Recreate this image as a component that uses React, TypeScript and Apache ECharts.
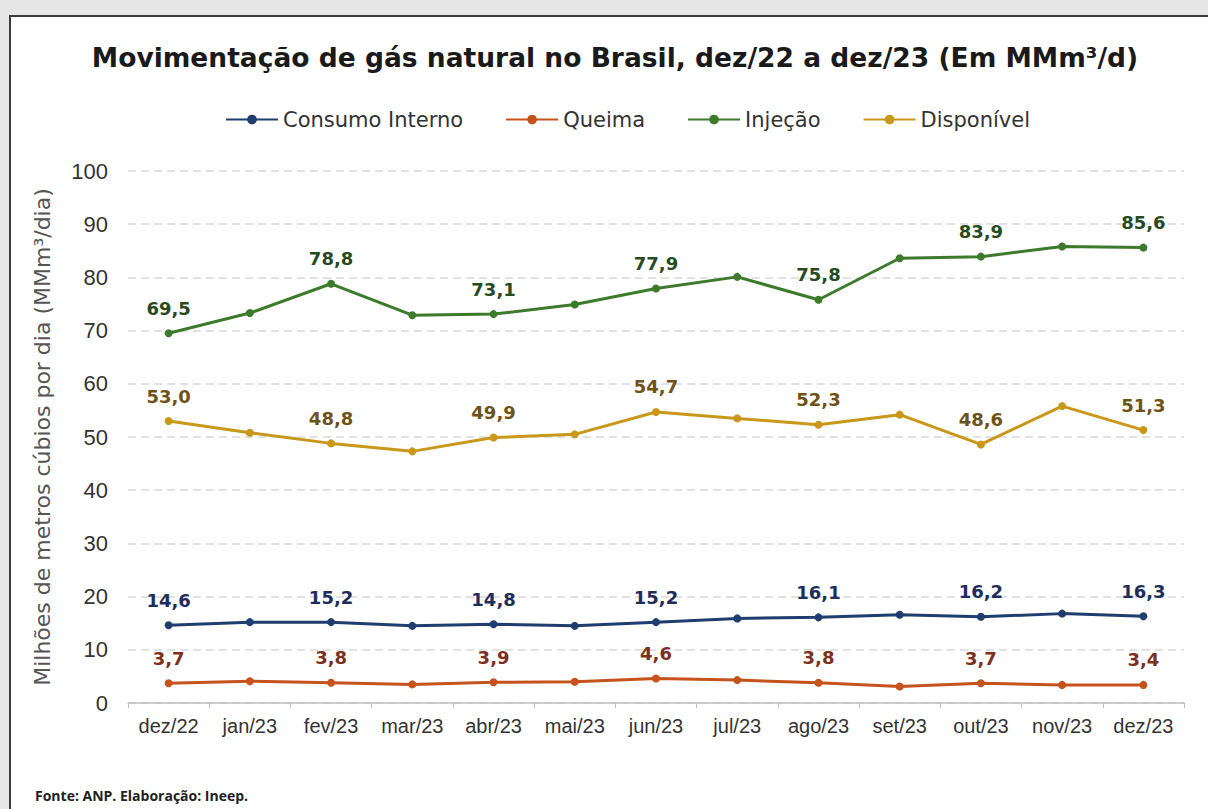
import React, { useEffect, useRef } from "react";
import * as echarts from "echarts";

const categories = ["dez/22", "jan/23", "fev/23", "mar/23", "abr/23", "mai/23", "jun/23", "jul/23", "ago/23", "set/23", "out/23", "nov/23", "dez/23"];
const consumoInterno = [14.6, 15.2, 15.2, 14.5, 14.8, 14.5, 15.2, 15.9, 16.1, 16.6, 16.2, 16.8, 16.3];
const queima = [3.7, 4.1, 3.8, 3.5, 3.9, 4.0, 4.6, 4.3, 3.8, 3.1, 3.7, 3.4, 3.4];
const injecao = [69.5, 73.3, 78.8, 72.9, 73.1, 74.9, 77.9, 80.1, 75.8, 83.6, 83.9, 85.8, 85.6];
const disponivel = [53.0, 50.8, 48.8, 47.3, 49.9, 50.5, 54.7, 53.5, 52.3, 54.2, 48.6, 55.8, 51.3];
const yTicks = [0, 10, 20, 30, 40, 50, 60, 70, 80, 90, 100];

const seriesDefs = [
  { name: "Consumo Interno", data: consumoInterno, color: "#1f3d6e", labelColor: "#1f2d5a" },
  { name: "Queima", data: queima, color: "#c5531b", labelColor: "#7d2f20" },
  { name: "Injeção", data: injecao, color: "#3d7a2b", labelColor: "#274a1f" },
  { name: "Disponível", data: disponivel, color: "#c9971a", labelColor: "#6e5218" },
];

export default function App() {
  const ref = useRef<HTMLDivElement>(null);
  useEffect(() => {
    if (!ref.current) return;
    const chart = echarts.init(ref.current, undefined, { renderer: "svg" });
    chart.setOption({
      animation: false,
      backgroundColor: "transparent",
      title: {
        text: "Movimentação de gás natural no Brasil, dez/22 a dez/23 (Em MMm³/d)",
        left: 610,
        textAlign: "center",
        top: 39,
        textStyle: { fontFamily: "DejaVu Sans", fontWeight: "bold", fontSize: 26.5, color: "#1a1a1a" },
      },
      legend: {
        top: 104,
        left: 220,
        itemWidth: 52,
        itemHeight: 12,
        itemGap: 42,
        textStyle: { fontFamily: "DejaVu Sans", fontSize: 21, color: "#333" },
        data: seriesDefs.map((s) => s.name),
      },
      grid: { left: 128, right: 24, top: 171, bottom: 106, containLabel: false },
      xAxis: {
        type: "category",
        data: categories,
        boundaryGap: true,
        axisLine: { show: true, lineStyle: { color: "#bfbfbf", width: 1.5 } },
        axisTick: { show: true, interval: 0, length: 5, lineStyle: { color: "#bfbfbf" } },
        axisLabel: { interval: 0, fontFamily: "Liberation Sans, Arial", fontSize: 20, color: "#333", margin: 13 },
      },
      yAxis: {
        type: "value",
        min: 0,
        max: 100,
        interval: 10,
        name: "Milhões de metros cúbios por dia (MMm³/dia)",
        nameLocation: "middle",
        nameGap: 75,
        nameTextStyle: { fontFamily: "DejaVu Sans", fontSize: 22, color: "#555" },
        axisLine: { show: false },
        axisTick: { show: false },
        axisLabel: {
          fontFamily: "Liberation Sans, Arial",
          fontSize: 22,
          color: "#333",
          margin: 20,
          formatter: (v: number) => (yTicks.includes(v) ? String(v) : ""),
        },
        splitLine: { show: true, lineStyle: { color: "#d9d9d9", type: [8, 5], width: 1.5 } },
      },
      series: seriesDefs.map((s) => ({
        name: s.name,
        type: "line",
        data: s.data,
        symbol: "circle",
        symbolSize: 8,
        color: s.color,
        lineStyle: { width: 3, color: s.color },
        itemStyle: { color: s.color },
        label: {
          show: true,
          position: "top",
          distance: 12,
          fontFamily: "DejaVu Sans",
          fontWeight: "bold",
          fontSize: 18,
          color: s.labelColor,
          formatter: (p: any) => (p.dataIndex % 2 === 0 ? Number(p.value).toFixed(1).replace(".", ",") : ""),
        },
      })),
    });
    return () => chart.dispose();
  }, []);

  return (
    <div style={{ position: "fixed", left: 0, top: 0, width: 1208, height: 809, background: "#e6e6e6", overflow: "hidden" }}>
      <div
        style={{
          position: "absolute",
          left: 9,
          top: 15,
          width: 1230,
          height: 820,
          background: "#ffffff",
          borderLeft: "2px solid #3c3c3c",
          borderTop: "2px solid #3c3c3c",
        }}
      />
      <div
        style={{
          position: "absolute",
          left: 35,
          top: 786,
          fontFamily: "Open Sans, sans-serif",
          fontWeight: "bold",
          fontSize: 14,
          color: "#222",
        }}
      >
        Fonte: ANP. Elaboração: Ineep.
      </div>
      <div ref={ref} style={{ position: "absolute", left: 0, top: 0, width: 1208, height: 809 }} />
    </div>
  );
}
